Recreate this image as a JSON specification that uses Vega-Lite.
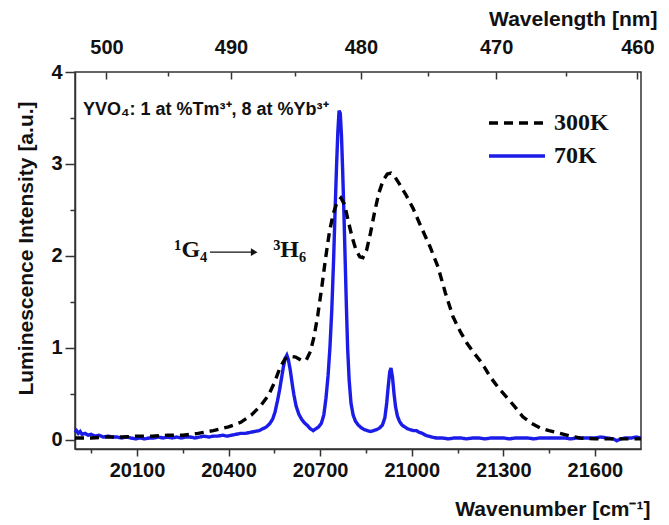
{
  "$schema": "https://vega.github.io/schema/vega-lite/v6.json",
  "width": 566,
  "height": 377,
  "autosize": {"type": "none"},
  "padding": {"left": 75, "top": 72, "right": 28, "bottom": 76},
  "background": "white",
  "config": {
    "view": {"stroke": "#333", "strokeWidth": 1.5},
    "axis": {
      "grid": false,
      "labelFont": "Liberation Sans",
      "labelFontWeight": "bold",
      "labelFontSize": 20,
      "labelColor": "#111",
      "labelFlush": false,
      "labelOverlap": false,
      "titleFont": "Liberation Sans",
      "titleFontWeight": "bold",
      "titleFontSize": 21,
      "titleColor": "#111",
      "tickColor": "#333",
      "domainColor": "#333",
      "tickWidth": 1.5,
      "domainWidth": 1.5
    }
  },
  "datasets": {
    "spec": [
      {"s":"70K","wn":19897,"I":0.08},{"s":"70K","wn":19902,"I":0.10},{"s":"70K","wn":19908,"I":0.07},{"s":"70K","wn":19914,"I":0.09},{"s":"70K","wn":19920,"I":0.06},{"s":"70K","wn":19930,"I":0.07},{"s":"70K","wn":19940,"I":0.05},{"s":"70K","wn":19950,"I":0.06},{"s":"70K","wn":19962,"I":0.04},{"s":"70K","wn":19975,"I":0.05},{"s":"70K","wn":19990,"I":0.03},{"s":"70K","wn":20005,"I":0.04},{"s":"70K","wn":20020,"I":0.03},{"s":"70K","wn":20035,"I":0.03},{"s":"70K","wn":20050,"I":0.02},{"s":"70K","wn":20065,"I":0.03},{"s":"70K","wn":20080,"I":0.02},{"s":"70K","wn":20095,"I":0.01},{"s":"70K","wn":20110,"I":0.02},{"s":"70K","wn":20125,"I":0.01},{"s":"70K","wn":20140,"I":0.02},{"s":"70K","wn":20155,"I":0.02},{"s":"70K","wn":20170,"I":0.03},{"s":"70K","wn":20185,"I":0.02},{"s":"70K","wn":20200,"I":0.03},{"s":"70K","wn":20215,"I":0.02},{"s":"70K","wn":20230,"I":0.03},{"s":"70K","wn":20245,"I":0.02},{"s":"70K","wn":20260,"I":0.03},{"s":"70K","wn":20275,"I":0.03},{"s":"70K","wn":20290,"I":0.02},{"s":"70K","wn":20305,"I":0.03},{"s":"70K","wn":20320,"I":0.04},{"s":"70K","wn":20335,"I":0.03},{"s":"70K","wn":20350,"I":0.04},{"s":"70K","wn":20365,"I":0.04},{"s":"70K","wn":20380,"I":0.05},{"s":"70K","wn":20395,"I":0.04},{"s":"70K","wn":20410,"I":0.05},{"s":"70K","wn":20425,"I":0.06},{"s":"70K","wn":20440,"I":0.07},{"s":"70K","wn":20455,"I":0.07},{"s":"70K","wn":20470,"I":0.08},{"s":"70K","wn":20485,"I":0.09},{"s":"70K","wn":20500,"I":0.10},{"s":"70K","wn":20512,"I":0.12},{"s":"70K","wn":20524,"I":0.14},{"s":"70K","wn":20536,"I":0.18},{"s":"70K","wn":20545,"I":0.23},{"s":"70K","wn":20552,"I":0.30},{"s":"70K","wn":20560,"I":0.42},{"s":"70K","wn":20567,"I":0.54},{"s":"70K","wn":20574,"I":0.68},{"s":"70K","wn":20580,"I":0.80},{"s":"70K","wn":20586,"I":0.89},{"s":"70K","wn":20591,"I":0.92},{"s":"70K","wn":20596,"I":0.87},{"s":"70K","wn":20602,"I":0.76},{"s":"70K","wn":20608,"I":0.62},{"s":"70K","wn":20614,"I":0.49},{"s":"70K","wn":20621,"I":0.37},{"s":"70K","wn":20630,"I":0.28},{"s":"70K","wn":20640,"I":0.22},{"s":"70K","wn":20650,"I":0.18},{"s":"70K","wn":20660,"I":0.15},{"s":"70K","wn":20668,"I":0.12},{"s":"70K","wn":20677,"I":0.10},{"s":"70K","wn":20686,"I":0.12},{"s":"70K","wn":20695,"I":0.14},{"s":"70K","wn":20704,"I":0.18},{"s":"70K","wn":20712,"I":0.27},{"s":"70K","wn":20719,"I":0.45},{"s":"70K","wn":20726,"I":0.70},{"s":"70K","wn":20732,"I":1.00},{"s":"70K","wn":20738,"I":1.40},{"s":"70K","wn":20744,"I":1.95},{"s":"70K","wn":20749,"I":2.50},{"s":"70K","wn":20754,"I":3.00},{"s":"70K","wn":20758,"I":3.35},{"s":"70K","wn":20762,"I":3.58},{"s":"70K","wn":20766,"I":3.55},{"s":"70K","wn":20770,"I":3.30},{"s":"70K","wn":20774,"I":2.90},{"s":"70K","wn":20778,"I":2.45},{"s":"70K","wn":20782,"I":1.95},{"s":"70K","wn":20786,"I":1.45},{"s":"70K","wn":20790,"I":1.00},{"s":"70K","wn":20795,"I":0.65},{"s":"70K","wn":20801,"I":0.40},{"s":"70K","wn":20808,"I":0.27},{"s":"70K","wn":20816,"I":0.20},{"s":"70K","wn":20825,"I":0.16},{"s":"70K","wn":20835,"I":0.13},{"s":"70K","wn":20845,"I":0.11},{"s":"70K","wn":20855,"I":0.10},{"s":"70K","wn":20865,"I":0.09},{"s":"70K","wn":20875,"I":0.10},{"s":"70K","wn":20885,"I":0.11},{"s":"70K","wn":20895,"I":0.13},{"s":"70K","wn":20904,"I":0.16},{"s":"70K","wn":20912,"I":0.24},{"s":"70K","wn":20918,"I":0.40},{"s":"70K","wn":20923,"I":0.58},{"s":"70K","wn":20928,"I":0.74},{"s":"70K","wn":20932,"I":0.78},{"s":"70K","wn":20937,"I":0.68},{"s":"70K","wn":20942,"I":0.50},{"s":"70K","wn":20947,"I":0.36},{"s":"70K","wn":20953,"I":0.26},{"s":"70K","wn":20960,"I":0.20},{"s":"70K","wn":20968,"I":0.16},{"s":"70K","wn":20977,"I":0.14},{"s":"70K","wn":20986,"I":0.12},{"s":"70K","wn":20995,"I":0.11},{"s":"70K","wn":21005,"I":0.10},{"s":"70K","wn":21015,"I":0.10},{"s":"70K","wn":21025,"I":0.08},{"s":"70K","wn":21035,"I":0.07},{"s":"70K","wn":21045,"I":0.05},{"s":"70K","wn":21055,"I":0.04},{"s":"70K","wn":21065,"I":0.03},{"s":"70K","wn":21080,"I":0.02},{"s":"70K","wn":21100,"I":0.02},{"s":"70K","wn":21120,"I":0.01},{"s":"70K","wn":21140,"I":0.02},{"s":"70K","wn":21160,"I":0.02},{"s":"70K","wn":21180,"I":0.01},{"s":"70K","wn":21200,"I":0.02},{"s":"70K","wn":21220,"I":0.02},{"s":"70K","wn":21240,"I":0.01},{"s":"70K","wn":21260,"I":0.02},{"s":"70K","wn":21280,"I":0.02},{"s":"70K","wn":21300,"I":0.02},{"s":"70K","wn":21320,"I":0.01},{"s":"70K","wn":21340,"I":0.02},{"s":"70K","wn":21360,"I":0.02},{"s":"70K","wn":21380,"I":0.02},{"s":"70K","wn":21400,"I":0.01},{"s":"70K","wn":21420,"I":0.02},{"s":"70K","wn":21440,"I":0.02},{"s":"70K","wn":21460,"I":0.02},{"s":"70K","wn":21480,"I":0.02},{"s":"70K","wn":21500,"I":0.02},{"s":"70K","wn":21520,"I":0.01},{"s":"70K","wn":21540,"I":0.02},{"s":"70K","wn":21560,"I":0.02},{"s":"70K","wn":21580,"I":0.02},{"s":"70K","wn":21600,"I":0.02},{"s":"70K","wn":21620,"I":0.03},{"s":"70K","wn":21640,"I":0.02},{"s":"70K","wn":21660,"I":0.01},{"s":"70K","wn":21672,"I":-0.01},{"s":"70K","wn":21684,"I":0.01},{"s":"70K","wn":21700,"I":0.02},{"s":"70K","wn":21720,"I":0.02},{"s":"70K","wn":21735,"I":0.03},{"s":"70K","wn":21751,"I":0.02},
      {"s":"300K","wn":19897,"I":0.02},{"s":"300K","wn":19950,"I":0.02},{"s":"300K","wn":20000,"I":0.03},{"s":"300K","wn":20050,"I":0.03},{"s":"300K","wn":20100,"I":0.04},{"s":"300K","wn":20150,"I":0.04},{"s":"300K","wn":20200,"I":0.05},{"s":"300K","wn":20250,"I":0.05},{"s":"300K","wn":20300,"I":0.07},{"s":"300K","wn":20350,"I":0.10},{"s":"300K","wn":20400,"I":0.14},{"s":"300K","wn":20440,"I":0.19},{"s":"300K","wn":20475,"I":0.27},{"s":"300K","wn":20505,"I":0.37},{"s":"300K","wn":20530,"I":0.48},{"s":"300K","wn":20550,"I":0.62},{"s":"300K","wn":20568,"I":0.78},{"s":"300K","wn":20585,"I":0.88},{"s":"300K","wn":20600,"I":0.91},{"s":"300K","wn":20620,"I":0.90},{"s":"300K","wn":20640,"I":0.86},{"s":"300K","wn":20655,"I":0.87},{"s":"300K","wn":20668,"I":0.96},{"s":"300K","wn":20680,"I":1.12},{"s":"300K","wn":20692,"I":1.35},{"s":"300K","wn":20705,"I":1.65},{"s":"300K","wn":20718,"I":1.98},{"s":"300K","wn":20730,"I":2.25},{"s":"300K","wn":20742,"I":2.45},{"s":"300K","wn":20755,"I":2.58},{"s":"300K","wn":20768,"I":2.63},{"s":"300K","wn":20780,"I":2.56},{"s":"300K","wn":20792,"I":2.38},{"s":"300K","wn":20805,"I":2.20},{"s":"300K","wn":20818,"I":2.06},{"s":"300K","wn":20830,"I":1.99},{"s":"300K","wn":20840,"I":1.98},{"s":"300K","wn":20852,"I":2.06},{"s":"300K","wn":20865,"I":2.25},{"s":"300K","wn":20878,"I":2.47},{"s":"300K","wn":20892,"I":2.68},{"s":"300K","wn":20906,"I":2.82},{"s":"300K","wn":20920,"I":2.89},{"s":"300K","wn":20932,"I":2.90},{"s":"300K","wn":20945,"I":2.86},{"s":"300K","wn":20960,"I":2.78},{"s":"300K","wn":20980,"I":2.67},{"s":"300K","wn":21004,"I":2.52},{"s":"300K","wn":21030,"I":2.32},{"s":"300K","wn":21060,"I":2.10},{"s":"300K","wn":21086,"I":1.88},{"s":"300K","wn":21110,"I":1.60},{"s":"300K","wn":21135,"I":1.34},{"s":"300K","wn":21160,"I":1.17},{"s":"300K","wn":21181,"I":1.05},{"s":"300K","wn":21200,"I":0.96},{"s":"300K","wn":21224,"I":0.86},{"s":"300K","wn":21240,"I":0.78},{"s":"300K","wn":21256,"I":0.69},{"s":"300K","wn":21285,"I":0.56},{"s":"300K","wn":21312,"I":0.46},{"s":"300K","wn":21340,"I":0.35},{"s":"300K","wn":21364,"I":0.25},{"s":"300K","wn":21392,"I":0.18},{"s":"300K","wn":21420,"I":0.13},{"s":"300K","wn":21450,"I":0.10},{"s":"300K","wn":21486,"I":0.07},{"s":"300K","wn":21520,"I":0.04},{"s":"300K","wn":21551,"I":0.02},{"s":"300K","wn":21600,"I":0.01},{"s":"300K","wn":21650,"I":0.01},{"s":"300K","wn":21700,"I":0.01},{"s":"300K","wn":21751,"I":0.01}
    ]
  },
  "resolve": {"axis": {"x": "independent", "y": "independent"}},
  "layer": [
    {
      "data": {"name": "spec"},
      "mark": {"type": "line", "strokeWidth": 3.4, "strokeCap": "butt"},
      "encoding": {
        "x": {
          "field": "wn", "type": "quantitative",
          "scale": {"domain": [19897, 21751], "nice": false, "zero": false},
          "axis": {
            "orient": "bottom",
            "values": [20100, 20400, 20700, 21000, 21300, 21600],
            "format": "d",
            "tickSize": 7,
            "labelPadding": 4,
            "title": "Wavenumber [cm⁻¹]",
            "titleX": 575, "titleY": 66,
            "titleAlign": "right", "titleBaseline": "alphabetic", "titleAnchor": "end"
          }
        },
        "y": {
          "field": "I", "type": "quantitative",
          "scale": {"domain": [-0.1, 4], "nice": false, "zero": false},
          "axis": {
            "orient": "left",
            "values": [0, 1, 2, 3, 4],
            "format": "d",
            "tickSize": 10,
            "labelPadding": 3,
            "title": "Luminescence Intensity [a.u.]",
            "titleX": -43, "titleY": 176,
            "titleAngle": -90, "titleAlign": "center", "titleBaseline": "alphabetic"
          }
        },
        "color": {
          "field": "s", "type": "nominal",
          "scale": {"domain": ["300K", "70K"], "range": ["#000000", "#1c1ce8"]},
          "legend": {
            "title": null, "orient": "none", "legendX": 412, "legendY": 36,
            "symbolType": "stroke", "symbolSize": 3136, "symbolStrokeWidth": 3.4,
            "labelFont": "Liberation Serif", "labelFontWeight": "bold", "labelFontSize": 24,
            "labelColor": "#111", "labelOffset": 7, "clipHeight": 30, "rowPadding": 3
          }
        },
        "strokeDash": {
          "field": "s", "type": "nominal",
          "scale": {"domain": ["300K", "70K"], "range": [[9, 6], [1, 0]]},
          "legend": {
            "title": null, "orient": "none", "legendX": 412, "legendY": 36,
            "symbolType": "stroke", "symbolSize": 3136, "symbolStrokeWidth": 3.4,
            "labelFont": "Liberation Serif", "labelFontWeight": "bold", "labelFontSize": 24,
            "labelColor": "#111", "labelOffset": 7, "clipHeight": 30, "rowPadding": 3
          }
        },
        "order": {"field": "s", "sort": "descending"}
      }
    },
    {
      "data": {"values": [{"wn": 20000, "I": 0}]},
      "mark": {"type": "point", "opacity": 0},
      "encoding": {
        "x": {"field": "wn", "type": "quantitative",
          "axis": {"orient": "bottom", "values": [19950, 20250, 20550, 20850, 21150, 21450], "labels": false, "domain": false, "tickSize": 4, "title": null}},
        "y": {"field": "I", "type": "quantitative", "axis": null}
      }
    },
    {
      "data": {"values": [{"wn": 20000, "I": 0}]},
      "mark": {"type": "point", "opacity": 0},
      "encoding": {
        "x": {"field": "wn", "type": "quantitative",
          "axis": {"orient": "top", "values": [20000, 20408.163, 20833.333, 21276.596, 21739.13],
            "labelExpr": "format(10000000/datum.value, '.0f')",
            "tickSize": -7, "labelPadding": 22, "domain": false,
            "title": "Wavelength [nm]", "titleX": 582, "titleY": -47,
            "titleAlign": "right", "titleBaseline": "alphabetic", "titleAnchor": "end"}},
        "y": {"field": "I", "type": "quantitative", "axis": null}
      }
    },
    {
      "data": {"values": [{"wn": 20000, "I": 0}]},
      "mark": {"type": "point", "opacity": 0},
      "encoding": {
        "x": {"field": "wn", "type": "quantitative",
          "axis": {"orient": "top", "values": [20202.02, 20618.557, 21052.632, 21505.376], "labels": false, "domain": false, "tickSize": -4, "title": null}},
        "y": {"field": "I", "type": "quantitative", "axis": null}
      }
    },
    {
      "data": {"values": [{"wn": 20000, "I": 0}]},
      "mark": {"type": "point", "opacity": 0},
      "encoding": {
        "x": {"field": "wn", "type": "quantitative", "axis": null},
        "y": {"field": "I", "type": "quantitative",
          "axis": {"orient": "left", "values": [0.5, 1.5, 2.5, 3.5], "labels": false, "domain": false, "tickSize": 5, "title": null}}
      }
    },
    {
      "data": {"values": [{}]},
      "mark": {"type": "text", "text": "YVO₄: 1 at %Tm³⁺, 8 at %Yb³⁺", "font": "Liberation Sans", "fontWeight": "bold", "fontSize": 18, "align": "left", "baseline": "alphabetic", "color": "#111"},
      "encoding": {
        "x": {"datum": 19923, "type": "quantitative", "axis": null},
        "y": {"datum": 3.53, "type": "quantitative", "axis": null}
      }
    },
    {
      "data": {"values": [{}]},
      "mark": {"type": "text", "text": "¹G₄", "font": "Liberation Serif", "fontWeight": "bold", "fontSize": 24, "align": "left", "baseline": "alphabetic", "color": "#111"},
      "encoding": {
        "x": {"datum": 20222, "type": "quantitative", "axis": null},
        "y": {"datum": 1.99, "type": "quantitative", "axis": null}
      }
    },
    {
      "data": {"values": [{}]},
      "mark": {"type": "text", "text": "³H₆", "font": "Liberation Serif", "fontWeight": "bold", "fontSize": 24, "align": "left", "baseline": "alphabetic", "color": "#111"},
      "encoding": {
        "x": {"datum": 20546, "type": "quantitative", "axis": null},
        "y": {"datum": 1.99, "type": "quantitative", "axis": null}
      }
    },
    {
      "data": {"values": [{}]},
      "mark": {"type": "rule", "strokeWidth": 1.3, "color": "#111"},
      "encoding": {
        "x": {"datum": 20339, "type": "quantitative", "axis": null},
        "x2": {"datum": 20480},
        "y": {"datum": 2.04, "type": "quantitative", "axis": null}
      }
    },
    {
      "data": {"values": [{}]},
      "mark": {"type": "point", "shape": "triangle-right", "filled": true, "size": 60, "color": "#111", "opacity": 1},
      "encoding": {
        "x": {"datum": 20484, "type": "quantitative", "axis": null},
        "y": {"datum": 2.04, "type": "quantitative", "axis": null}
      }
    }
  ]
}
